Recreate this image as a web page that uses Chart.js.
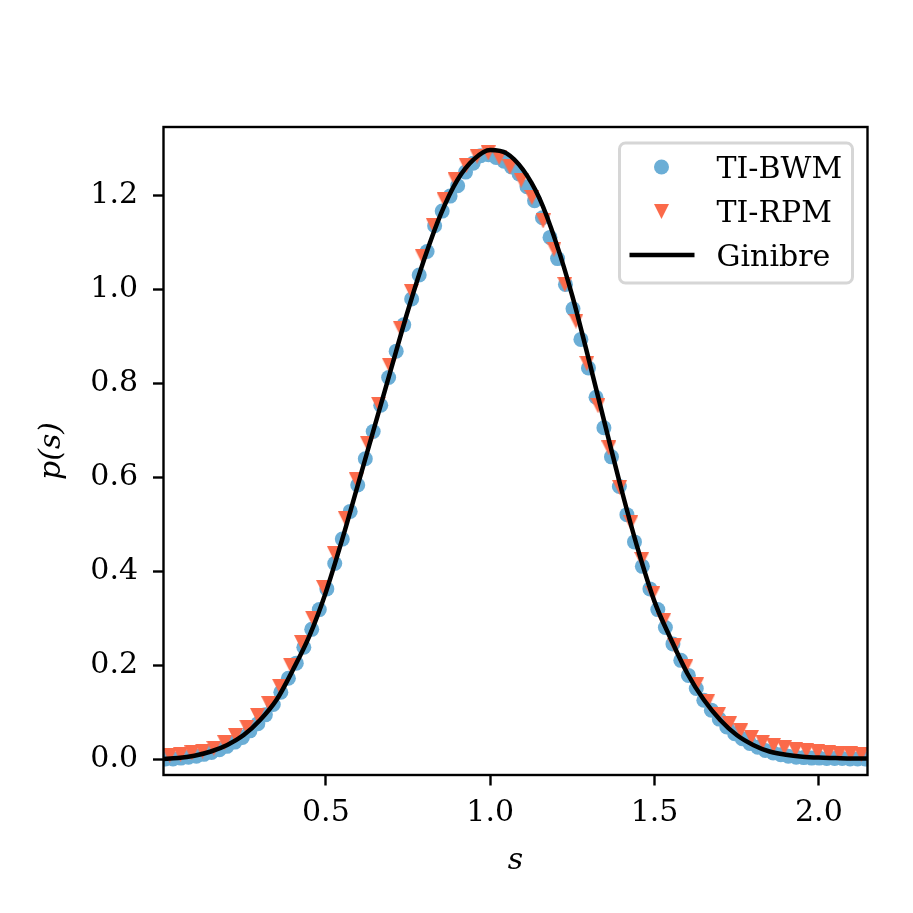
<!DOCTYPE html>
<html>
<head>
<meta charset="utf-8">
<script src="https://cdn.jsdelivr.net/npm/chart.js@4.4.1/dist/chart.umd.min.js"></script>
<style>
  html, body { margin: 0; padding: 0; background: #fff; }
  #wrap { width: 913px; height: 913px; }
</style>
</head>
<body>
<div id="wrap"><canvas id="spacingChart" width="913" height="913"></canvas></div>
<script>
// spacing values s and densities p(s)
const bwmS = [
  0.012, 0.035, 0.059, 0.082, 0.106, 0.129, 0.152, 0.176, 0.199, 0.223,
  0.246, 0.269, 0.293, 0.316, 0.340, 0.363, 0.386, 0.410, 0.433, 0.457,
  0.480, 0.503, 0.527, 0.550, 0.574, 0.597, 0.620, 0.644, 0.667, 0.691,
  0.714, 0.737, 0.761, 0.784, 0.808, 0.831, 0.854, 0.878, 0.901, 0.925,
  0.948, 0.971, 0.995, 1.018, 1.042, 1.065, 1.088, 1.112, 1.135, 1.159,
  1.182, 1.205, 1.229, 1.252, 1.276, 1.299, 1.322, 1.346, 1.369, 1.393,
  1.416, 1.439, 1.463, 1.486, 1.510, 1.533, 1.556, 1.580, 1.603, 1.627,
  1.650, 1.673, 1.697, 1.720, 1.744, 1.767, 1.790, 1.814, 1.837, 1.861,
  1.884, 1.907, 1.931, 1.954, 1.978, 2.001, 2.024, 2.048, 2.071, 2.095,
  2.118, 2.141
];
const bwmP = [
  0.000, 0.000, 0.002, 0.004, 0.006, 0.010, 0.014, 0.020, 0.027, 0.036,
  0.046, 0.060, 0.075, 0.094, 0.116, 0.142, 0.172, 0.204, 0.238, 0.276,
  0.318, 0.362, 0.416, 0.468, 0.527, 0.583, 0.639, 0.697, 0.753, 0.812,
  0.868, 0.924, 0.979, 1.030, 1.080, 1.135, 1.166, 1.198, 1.220, 1.249,
  1.268, 1.284, 1.286, 1.280, 1.272, 1.260, 1.245, 1.218, 1.188, 1.152,
  1.110, 1.065, 1.010, 0.958, 0.893, 0.832, 0.770, 0.705, 0.643, 0.580,
  0.520, 0.462, 0.410, 0.362, 0.318, 0.280, 0.245, 0.210, 0.178, 0.150,
  0.125, 0.104, 0.085, 0.068, 0.054, 0.043, 0.033, 0.025, 0.018, 0.013,
  0.009, 0.006, 0.004, 0.003, 0.002, 0.002, 0.001, 0.001, 0.001, 0.000,
  0.000, 0.000
];
const rpmS = [
  0.025, 0.058, 0.092, 0.125, 0.159, 0.192, 0.225, 0.259, 0.292, 0.326,
  0.359, 0.392, 0.426, 0.459, 0.493, 0.526, 0.559, 0.593, 0.626, 0.660,
  0.693, 0.726, 0.760, 0.793, 0.827, 0.860, 0.893, 0.927, 0.960, 0.994,
  1.027, 1.060, 1.094, 1.127, 1.161, 1.194, 1.227, 1.261, 1.294, 1.328,
  1.361, 1.394, 1.428, 1.461, 1.495, 1.528, 1.561, 1.595, 1.628, 1.662,
  1.695, 1.728, 1.762, 1.795, 1.829, 1.862, 1.895, 1.929, 1.962, 1.996,
  2.029, 2.062, 2.096, 2.129
];
const rpmP = [
  0.008, 0.010, 0.013, 0.017, 0.023, 0.035, 0.050, 0.068, 0.093, 0.118,
  0.155, 0.200, 0.248, 0.300, 0.365, 0.437, 0.512, 0.594, 0.672, 0.755,
  0.838, 0.917, 0.995, 1.070, 1.135, 1.190, 1.233, 1.263, 1.283, 1.290,
  1.280, 1.260, 1.232, 1.195, 1.145, 1.085, 1.010, 0.932, 0.842, 0.752,
  0.662, 0.578, 0.503, 0.425, 0.352, 0.295, 0.242, 0.196, 0.158, 0.123,
  0.095, 0.075, 0.060, 0.046, 0.036, 0.029, 0.024, 0.020, 0.018, 0.015,
  0.013, 0.012, 0.011, 0.010
];
const ginibreS = [
  0.00, 0.05, 0.10, 0.15, 0.20, 0.25, 0.30, 0.35, 0.40, 0.45,
  0.50, 0.55, 0.60, 0.65, 0.70, 0.75, 0.80, 0.85, 0.90, 0.95,
  1.00, 1.05, 1.10, 1.15, 1.20, 1.25, 1.30, 1.35, 1.40, 1.45,
  1.50, 1.55, 1.60, 1.65, 1.70, 1.75, 1.80, 1.85, 1.90, 1.95,
  2.00, 2.05, 2.10, 2.15
];
const ginibreP = [
  0.000, 0.002, 0.007, 0.016, 0.030, 0.051, 0.083, 0.126, 0.190, 0.262,
  0.355, 0.468, 0.590, 0.712, 0.834, 0.955, 1.065, 1.160, 1.232, 1.276,
  1.296, 1.289, 1.254, 1.193, 1.100, 0.985, 0.850, 0.710, 0.572, 0.445,
  0.335, 0.255, 0.182, 0.126, 0.083, 0.051, 0.030, 0.016, 0.009, 0.005,
  0.003, 0.002, 0.001, 0.001
];
const seriesNames = ['TI-BWM', 'TI-RPM', 'Ginibre'];
const xTicks = [0.5, 1.0, 1.5, 2.0];
const yTicks = [0.0, 0.2, 0.4, 0.6, 0.8, 1.0, 1.2];

const BLUE = '#6baed6';
const RED = '#fb6a4a';
const FONT = 'DejaVu Serif';

// matplotlib style 'v' marker
function makeTriangle(color, size) {
  const c = document.createElement('canvas');
  c.width = size;
  c.height = size;
  const g = c.getContext('2d');
  g.fillStyle = color;
  g.beginPath();
  g.moveTo(0, 0);
  g.lineTo(size, 0);
  g.lineTo(size / 2, size);
  g.closePath();
  g.fill();
  return c;
}
const triangle = makeTriangle(RED, 15);

function pairs(xs, ys) {
  return xs.map((x, i) => ({ x: x, y: ys[i] }));
}

const framePlugin = {
  id: 'frame',
  afterDatasetsDraw(chart) {
    const { ctx, chartArea: a } = chart;
    ctx.save();
    ctx.strokeStyle = '#000';
    ctx.lineWidth = 2.4;
    ctx.strokeRect(a.left, a.top, a.right - a.left, a.bottom - a.top);
    ctx.restore();
  }
};

const legendPlugin = {
  id: 'boxLegend',
  afterDraw(chart) {
    const { ctx, chartArea: a } = chart;
    const w = 233, h = 140, r = 6;
    const left = a.right - 15 - w;
    const top = a.top + 16;
    ctx.save();
    ctx.beginPath();
    ctx.roundRect(left, top, w, h, r);
    ctx.fillStyle = 'rgba(255,255,255,0.8)';
    ctx.fill();
    ctx.strokeStyle = '#d6d6d6';
    ctx.lineWidth = 3;
    ctx.stroke();

    const rows = [top + 24, top + 68.5, top + 112];
    const mx = left + 42;
    // circle
    ctx.fillStyle = BLUE;
    ctx.beginPath();
    ctx.arc(mx, rows[0], 7.5, 0, Math.PI * 2);
    ctx.fill();
    // triangle
    ctx.drawImage(triangle, mx - 7.5, rows[1] - 7.5);
    // line
    ctx.strokeStyle = '#000';
    ctx.lineWidth = 4.5;
    ctx.beginPath();
    ctx.moveTo(left + 10, rows[2]);
    ctx.lineTo(left + 75, rows[2]);
    ctx.stroke();

    ctx.fillStyle = '#000';
    ctx.font = '30px "' + FONT + '"';
    ctx.textAlign = 'left';
    ctx.textBaseline = 'alphabetic';
    seriesNames.forEach((name, i) => {
      ctx.fillText(name, left + 97, rows[i] + 10.5);
    });
    ctx.restore();
  }
};

const ctx = document.getElementById('spacingChart').getContext('2d');
const spacingChart = new Chart(ctx, {
  type: 'scatter',
  data: {
    datasets: [
      {
        label: seriesNames[0],
        data: pairs(bwmS, bwmP),
        pointStyle: 'circle',
        pointRadius: 7.5,
        pointBackgroundColor: BLUE,
        pointBorderWidth: 0,
        order: 3,
        clip: 0
      },
      {
        label: seriesNames[1],
        data: pairs(rpmS, rpmP),
        pointStyle: triangle,
        pointRadius: 7.5,
        pointBorderWidth: 0,
        order: 2,
        clip: 0
      },
      {
        label: seriesNames[2],
        type: 'line',
        data: pairs(ginibreS, ginibreP),
        showLine: true,
        borderColor: '#000',
        borderWidth: 4.5,
        pointRadius: 0,
        fill: false,
        cubicInterpolationMode: 'monotone',
        order: 1,
        clip: 0
      }
    ]
  },
  options: {
    responsive: false,
    animation: false,
    devicePixelRatio: 1,
    layout: { padding: { left: 0, top: 127, right: 45.5, bottom: 0 } },
    plugins: {
      legend: { display: false },
      tooltip: { enabled: false }
    },
    scales: {
      x: {
        type: 'linear',
        min: 0.006,
        max: 2.148,
        afterBuildTicks: s => { s.ticks = xTicks.map(v => ({ value: v })); },
        afterFit: s => { s.height = 138; },
        grid: { drawOnChartArea: false, drawTicks: true, tickLength: 10.5, tickWidth: 2.4, tickColor: '#000' },
        border: { display: false },
        ticks: {
          color: '#000',
          font: { family: FONT, size: 30 },
          padding: 10,
          maxRotation: 0,
          autoSkip: false,
          callback: v => Number(v).toFixed(1)
        },
        title: {
          display: true,
          text: 's',
          color: '#000',
          font: { family: FONT, size: 30, style: 'italic' },
          padding: { top: 0, bottom: 34 }
        }
      },
      y: {
        type: 'linear',
        min: -0.034,
        max: 1.345,
        afterBuildTicks: s => { s.ticks = yTicks.map(v => ({ value: v })); },
        afterFit: s => { s.width = 163.5; },
        grid: { drawOnChartArea: false, drawTicks: true, tickLength: 10.5, tickWidth: 2.4, tickColor: '#000' },
        border: { display: false },
        ticks: {
          color: '#000',
          font: { family: FONT, size: 30 },
          padding: 15,
          autoSkip: false,
          callback: v => Number(v).toFixed(1)
        },
        title: {
          display: true,
          text: 'p(s)',
          color: '#000',
          font: { family: FONT, size: 30, style: 'italic' },
          padding: { top: 34, bottom: 0 }
        }
      }
    }
  },
  plugins: [framePlugin, legendPlugin]
});
</script>
</body>
</html>
